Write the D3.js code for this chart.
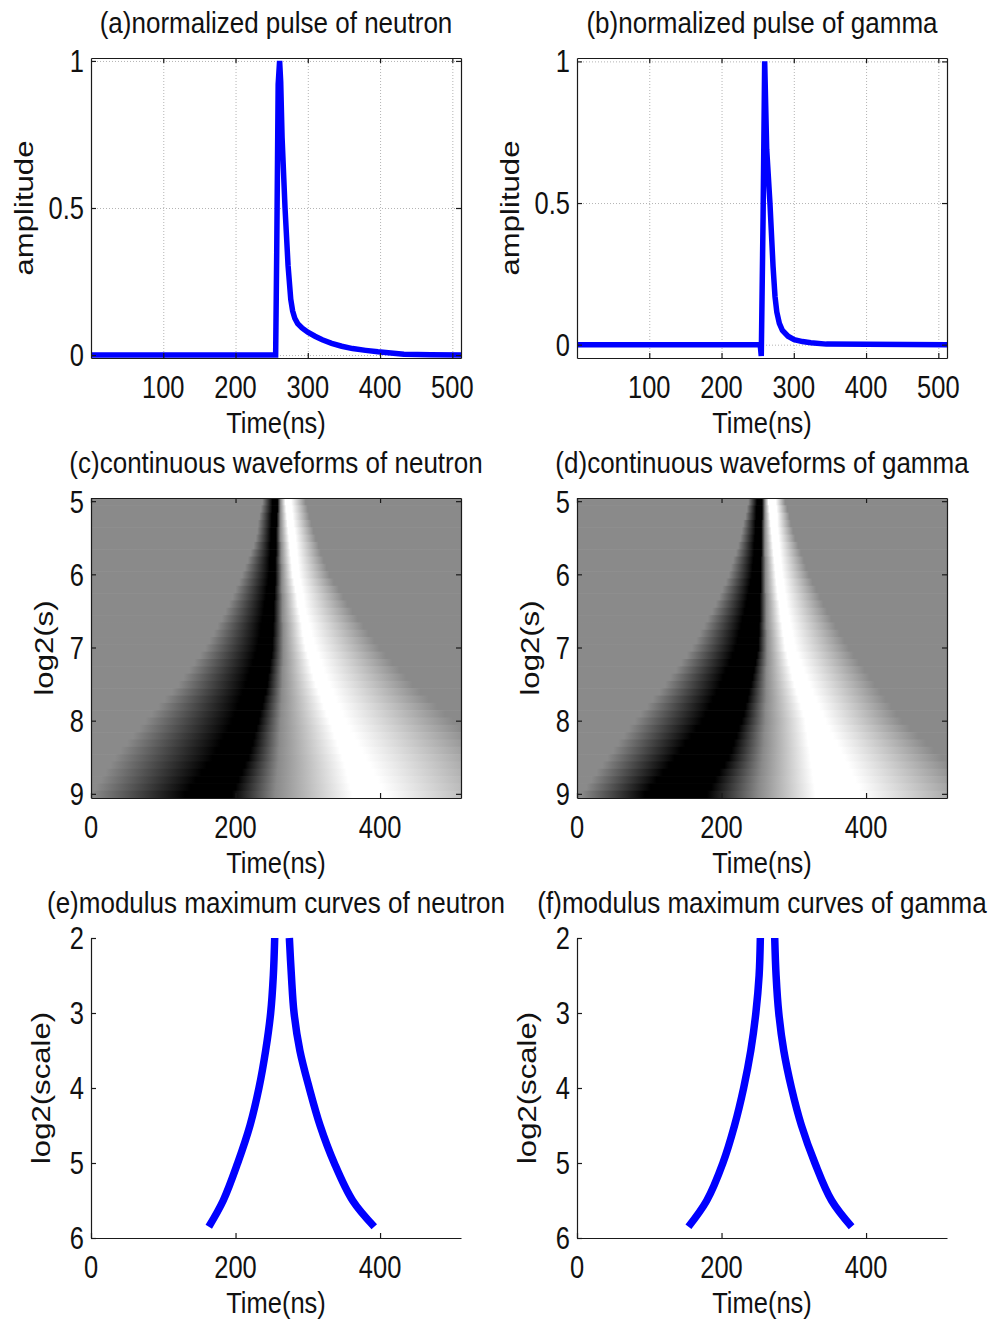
<!DOCTYPE html>
<html>
<head>
<meta charset="utf-8">
<script src="https://cdn.jsdelivr.net/npm/d3@7"></script>
<style>
  body { margin: 0; background: #fff; }
  svg { display: block; font-family: "Liberation Sans", Arial, sans-serif; }
</style>
</head>
<body>
<div id="chart"></div>
<script>
'use strict';

// ─── Data ────────────────────────────────────────────────────────────────────

// (a) / (b) normalized pulses
const TIME_NEUTRON = [1, 255.5, 257, 259, 261, 262.5, 264.4, 268.5, 272.7, 276.4, 279, 282, 286, 292, 300, 310, 320, 333, 347, 362, 380, 397, 415, 433, 470, 512];
const AMP_NEUTRON  = [0, 0, 0.35, 0.92, 1.0, 0.93, 0.74, 0.5, 0.304, 0.19, 0.15, 0.125, 0.107, 0.092, 0.078, 0.064, 0.052, 0.04, 0.03, 0.022, 0.016, 0.011, 0.007, 0.003, 0.001, 0];

const TIME_GAMMA = [1, 253.5, 255, 257.5, 259.7, 262.5, 267, 271.3, 274, 276.5, 280, 284.3, 292, 300.5, 312, 323.6, 345, 512];
const AMP_GAMMA  = [0, 0, -0.04, 0.45, 1.0, 0.69, 0.5, 0.276, 0.17, 0.115, 0.075, 0.05, 0.03, 0.018, 0.011, 0.007, 0.002, 0];

// (c) / (d) continuous wavelet rows: one row per log2(s)
const CWT_SCALES = [5, 5.1, 5.2, 5.3, 5.4, 5.5, 5.6, 5.7, 5.8, 5.9,
                    6, 6.1, 6.2, 6.3, 6.4, 6.5, 6.6, 6.7, 6.8, 6.9,
                    7, 7.1, 7.2, 7.3, 7.4, 7.5, 7.6, 7.7, 7.8, 7.9,
                    8, 8.1, 8.2, 8.3, 8.4, 8.5, 8.6, 8.7, 8.8, 8.9, 9];
// coefficient level at each profile point: background, black, black, zero, white, white, background
const CWT_STOP_VALUES = [0, -1, -1, 0, 1, 1, 0];
// time (ns) of each profile point, per row
const CWT_NEUTRON = [
  [237, 251, 258, 262, 269, 277, 297], [235, 251, 258, 262, 270, 278, 300], [233, 250, 257, 262, 271, 279, 302],
  [231, 250, 257, 262, 272, 280, 305], [230, 249, 256, 262, 273, 282, 308], [228, 249, 256, 262, 274, 283, 311],
  [225, 248, 256, 263, 275, 284, 315], [221, 248, 256, 263, 276, 285, 318], [217, 247, 255, 263, 277, 286, 322],
  [213, 247, 255, 264, 278, 287, 326], [209, 246, 255, 264, 279, 288, 330], [205, 245, 255, 264, 281, 290, 336],
  [200, 243, 254, 264, 283, 292, 343], [196, 242, 254, 265, 285, 294, 349], [191, 240, 253, 265, 286, 295, 355],
  [186, 239, 253, 265, 288, 297, 362], [181, 237, 253, 265, 290, 300, 369], [175, 235, 252, 266, 292, 303, 377],
  [170, 234, 252, 266, 293, 305, 384], [164, 232, 251, 266, 295, 308, 392], [158, 230, 251, 266, 297, 311, 399],
  [151, 227, 250, 266, 300, 315, 408], [143, 224, 248, 266, 303, 319, 417], [136, 220, 247, 265, 305, 322, 427],
  [128, 217, 245, 265, 308, 326, 436], [121, 214, 244, 265, 311, 330, 445], [112, 210, 242, 264, 315, 335, 456],
  [102, 206, 239, 264, 319, 339, 467], [93, 203, 237, 263, 322, 344, 479], [84, 199, 234, 263, 326, 348, 490],
  [75, 195, 232, 262, 330, 353, 501], [67, 190, 229, 262, 334, 358, 513], [58, 184, 226, 261, 337, 364, 525],
  [50, 179, 224, 261, 341, 369, 536], [41, 173, 221, 260, 344, 375, 548], [33, 168, 218, 260, 348, 380, 560],
  [27, 160, 213, 259, 351, 386, 568], [20, 153, 209, 258, 354, 391, 576], [14, 145, 204, 257, 356, 397, 584],
  [7, 138, 200, 256, 359, 402, 592], [1, 130, 195, 255, 362, 408, 600]
];
const CWT_GAMMA = [
  [237, 249, 256, 260, 265, 275, 288], [235, 248, 256, 260, 266, 276, 291], [233, 248, 256, 260, 267, 277, 294],
  [230, 247, 255, 260, 268, 277, 296], [228, 247, 255, 260, 269, 278, 299], [226, 246, 255, 260, 270, 279, 302],
  [223, 245, 255, 260, 271, 280, 306], [220, 245, 255, 260, 272, 281, 310], [216, 244, 254, 261, 273, 282, 314],
  [213, 243, 254, 261, 274, 283, 317], [210, 242, 254, 261, 275, 284, 321], [206, 240, 254, 261, 276, 286, 326],
  [201, 238, 254, 261, 277, 287, 331], [197, 236, 253, 262, 278, 289, 336], [192, 234, 253, 262, 280, 290, 341],
  [187, 232, 253, 262, 281, 292, 346], [181, 229, 253, 262, 282, 294, 352], [176, 227, 252, 262, 284, 296, 358],
  [170, 224, 252, 263, 285, 298, 364], [165, 222, 251, 263, 287, 300, 370], [159, 219, 251, 263, 288, 302, 376],
  [152, 215, 249, 263, 291, 306, 383], [144, 211, 247, 263, 293, 310, 390], [137, 206, 245, 262, 296, 314, 398],
  [129, 202, 243, 262, 298, 318, 405], [122, 198, 241, 262, 301, 322, 412], [114, 193, 238, 262, 304, 326, 420],
  [105, 188, 236, 262, 307, 331, 427], [97, 183, 233, 261, 310, 335, 435], [88, 178, 231, 261, 313, 340, 442],
  [80, 173, 228, 261, 316, 344, 450], [72, 165, 224, 260, 317, 349, 461], [65, 158, 221, 259, 319, 354, 472],
  [57, 150, 217, 259, 320, 360, 483], [50, 143, 214, 258, 322, 365, 494], [42, 135, 210, 257, 323, 370, 505],
  [35, 127, 204, 256, 324, 375, 516], [27, 119, 197, 255, 326, 380, 527], [20, 110, 191, 253, 327, 385, 538],
  [13, 102, 186, 252, 329, 390, 549], [6, 94, 180, 251, 330, 395, 560]
];

// (e) / (f) modulus maximum curves
const MM_SCALES        = [2, 2.5, 3, 3.5, 4, 4.5, 5, 5.5, 5.85];
const MM_NEUTRON_LEFT  = [254.2, 252.3, 248.6, 241.7, 232.4, 220, 203, 183, 163];
const MM_NEUTRON_RIGHT = [274.5, 277.3, 281, 289, 302, 317, 336.6, 362, 392];
const MM_GAMMA_LEFT    = [253.7, 252, 247.5, 240.5, 230.6, 218, 201.9, 179.6, 154.2];
const MM_GAMMA_RIGHT   = [273.6, 275.5, 279.2, 286.1, 296.8, 310.6, 329.2, 352.3, 380];

// Ticks
const PULSE_X_TICKS = [100, 200, 300, 400, 500];
const PULSE_Y_TICKS = [0, 0.5, 1];
const CWT_X_TICKS = [0, 200, 400];
const CWT_Y_TICKS = [5, 6, 7, 8, 9];
const MM_X_TICKS = [0, 200, 400];
const MM_Y_TICKS = [2, 3, 4, 5, 6];

// ─── Layout ──────────────────────────────────────────────────────────────────

const W = 995, H = 1323;
const FS = 25.5;
const COLS = [{ left: 91, right: 461 }, { left: 577, right: 947 }];
const ROWS = {
  pulse: { top: 58, bottom: 358 },
  cwt: { top: 498, bottom: 798 },
  mm: { top: 938, bottom: 1238 },
};

const svg = d3.select('#chart').append('svg').attr('width', W).attr('height', H);
const defs = svg.append('defs');
const gray = d3.scaleLinear().domain([-1, 0, 1]).range(['#000000', '#8a8a8a', '#ffffff']);

function box(col, row) {
  return { left: COLS[col].left, right: COLS[col].right, top: ROWS[row].top, bottom: ROWS[row].bottom };
}

function addText(x, y, str, opts) {
  const o = Object.assign({ anchor: 'middle', size: FS, sy: 1.2, rotate: false }, opts || {});
  return svg.append('text')
    .attr('text-anchor', o.anchor)
    .attr('fill', '#111')
    .style('font-size', o.size + 'px')
    .attr('transform', o.rotate
      ? `translate(${x},${y}) rotate(-90) scale(${o.sy},1)`
      : `translate(${x},${y}) scale(1,${o.sy})`)
    .text(str);
}

function clipFor(id, p) {
  defs.append('clipPath').attr('id', id)
    .append('rect')
    .attr('x', p.left).attr('y', p.top)
    .attr('width', p.right - p.left).attr('height', p.bottom - p.top);
  return `url(#${id})`;
}

function drawFrame(p, xs, ys, xTicks, yTicks, full) {
  const g = svg.append('g').attr('class', 'frame');
  g.append('g').attr('transform', `translate(0,${p.bottom})`)
    .call(d3.axisBottom(xs).tickValues(xTicks).tickSizeInner(-5).tickSizeOuter(0).tickFormat(''));
  g.append('g').attr('transform', `translate(${p.left},0)`)
    .call(d3.axisLeft(ys).tickValues(yTicks).tickSizeInner(-5).tickSizeOuter(0).tickFormat(''));
  if (full) {
    g.append('g').attr('transform', `translate(0,${p.top})`)
      .call(d3.axisTop(xs).tickValues(xTicks).tickSizeInner(-5).tickSizeOuter(0).tickFormat(''));
    g.append('g').attr('transform', `translate(${p.right},0)`)
      .call(d3.axisRight(ys).tickValues(yTicks).tickSizeInner(-5).tickSizeOuter(0).tickFormat(''));
  }
  g.selectAll('.domain, .tick line').attr('stroke', '#1a1a1a').attr('stroke-width', 1.2);

  const yCenter = ys.bandwidth ? (v => ys(v) + ys.bandwidth() / 2) : ys;
  xTicks.forEach(t => addText(xs(t), p.bottom + 40, String(t)));
  yTicks.forEach(v => addText(p.left - 7, yCenter(v) + 11, String(v), { anchor: 'end' }));
}

function labels(p, title, ylabel, yOff) {
  const cx = (p.left + p.right) / 2;
  addText(cx, p.top - 25, title, { size: 26, sy: 1.1 });
  addText(cx, p.bottom + 75, 'Time(ns)', { sy: 1.15 });
  addText(p.left - yOff, (p.top + p.bottom) / 2, ylabel, { rotate: true, sy: 1.22 });
}

// ─── Pulses ──────────────────────────────────────────────────────────────────

function drawPulse(col, times, amps, yDomain, title, id) {
  const p = box(col, 'pulse');
  const xs = d3.scaleLinear().domain([0, 512]).range([p.left, p.right]);
  const ys = d3.scaleLinear().domain(yDomain).range([p.bottom, p.top]);

  // dotted grid
  const grid = svg.append('g').attr('class', 'grid');
  grid.append('g').attr('transform', `translate(0,${p.bottom})`)
    .call(d3.axisBottom(xs).tickValues(PULSE_X_TICKS).tickSize(-(p.bottom - p.top)).tickFormat(''));
  grid.append('g').attr('transform', `translate(${p.left},0)`)
    .call(d3.axisLeft(ys).tickValues(PULSE_Y_TICKS).tickSize(-(p.right - p.left)).tickFormat(''));
  grid.selectAll('.domain').remove();
  grid.selectAll('line').attr('stroke', '#b4b4b4').attr('stroke-dasharray', '1,2');

  const line = d3.line().x(i => xs(times[i])).y(i => ys(amps[i]));
  svg.append('path')
    .attr('clip-path', clipFor(id, p))
    .attr('d', line(d3.range(times.length)))
    .attr('fill', 'none')
    .attr('stroke', '#0000ff')
    .attr('stroke-width', 5.5)
    .attr('stroke-linejoin', 'miter')
    .attr('stroke-miterlimit', 3);

  drawFrame(p, xs, ys, PULSE_X_TICKS, PULSE_Y_TICKS, true);
  labels(p, title, 'amplitude', 58);
}

// ─── Wavelet images ──────────────────────────────────────────────────────────

function drawCwt(col, table, title, id) {
  const p = box(col, 'cwt');
  const xs = d3.scaleLinear().domain([0, 512]).range([p.left, p.right]);
  const ys = d3.scaleBand().domain(CWT_SCALES).range([p.top, p.bottom]).padding(0);
  const g = svg.append('g').attr('clip-path', clipFor(id + '-clip', p));

  CWT_SCALES.forEach((s, i) => {
    const stops = table[i];
    const x1 = xs(stops[0]), x2 = xs(stops[stops.length - 1]);
    const grad = defs.append('linearGradient')
      .attr('id', `${id}-row${i}`)
      .attr('gradientUnits', 'userSpaceOnUse')
      .attr('x1', x1).attr('x2', x2).attr('y1', 0).attr('y2', 0);
    stops.forEach((t, k) => {
      grad.append('stop')
        .attr('offset', (xs(t) - x1) / (x2 - x1))
        .attr('stop-color', gray(CWT_STOP_VALUES[k]));
    });
    g.append('rect')
      .attr('x', p.left).attr('width', p.right - p.left)
      .attr('y', ys(s)).attr('height', ys.bandwidth() + 0.6)
      .attr('fill', `url(#${id}-row${i})`);
  });

  drawFrame(p, xs, ys, CWT_X_TICKS, CWT_Y_TICKS, true);
  labels(p, title, 'log2(s)', 38);
}

// ─── Modulus maximum curves ──────────────────────────────────────────────────

function drawMm(col, left, right, title) {
  const p = box(col, 'mm');
  const xs = d3.scaleLinear().domain([0, 512]).range([p.left, p.right]);
  const ys = d3.scaleLinear().domain([2, 6]).range([p.top, p.bottom]);
  const line = d3.line().x(d => xs(d[0])).y(d => ys(d[1])).curve(d3.curveCatmullRom.alpha(0.5));

  [left, right].forEach(branch => {
    svg.append('path')
      .attr('d', line(branch.map((t, i) => [t, MM_SCALES[i]])))
      .attr('fill', 'none')
      .attr('stroke', '#0000ff')
      .attr('stroke-width', 7.5)
      .attr('stroke-linecap', 'butt');
  });

  drawFrame(p, xs, ys, MM_X_TICKS, MM_Y_TICKS, false);
  labels(p, title, 'log2(scale)', 41);
}

drawPulse(0, TIME_NEUTRON, AMP_NEUTRON, [-0.01, 1.01], '(a)normalized pulse of neutron', 'clip-a');
drawPulse(1, TIME_GAMMA, AMP_GAMMA, [-0.047, 1.012], '(b)normalized pulse of gamma', 'clip-b');
drawCwt(0, CWT_NEUTRON, '(c)continuous waveforms of neutron', 'cwt-c');
drawCwt(1, CWT_GAMMA, '(d)continuous waveforms of gamma', 'cwt-d');
drawMm(0, MM_NEUTRON_LEFT, MM_NEUTRON_RIGHT, '(e)modulus maximum curves of neutron');
drawMm(1, MM_GAMMA_LEFT, MM_GAMMA_RIGHT, '(f)modulus maximum curves of gamma');
</script>
</body>
</html>
